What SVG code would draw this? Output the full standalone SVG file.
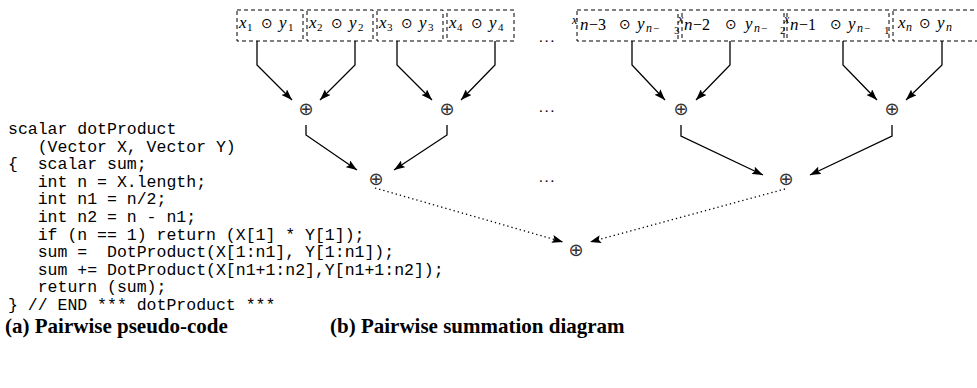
<svg xmlns="http://www.w3.org/2000/svg" width="977" height="388" viewBox="0 0 977 388">
<defs>
<style>
.box{fill:none;stroke:#000;stroke-width:1;stroke-dasharray:4 3}
.m{font-family:"Liberation Serif",serif;font-style:italic;font-size:17px;fill:#000}
.d{font-family:"Liberation Serif",serif;font-size:11px;fill:#000}
.ds{font-family:"Liberation Serif",serif;font-style:italic;font-size:12px;fill:#000}
.op{font-family:"DejaVu Sans",sans-serif;font-size:14px;fill:#000}
.mn{font-family:"Liberation Serif",serif;font-size:16px;fill:#000}
.plus{font-family:"DejaVu Sans",sans-serif;font-size:18px;fill:#333;text-anchor:middle;dominant-baseline:central}
.dots{font-family:"Liberation Serif",serif;font-size:15px;letter-spacing:2px;fill:#000}
.code{font-family:"Liberation Mono",monospace;font-size:16.5px;fill:#000;white-space:pre}
.cap{font-family:"Liberation Serif",serif;font-weight:bold;font-size:21px;fill:#000}
.c{fill:none;stroke:#000;stroke-width:1.3}
.dot{fill:none;stroke:#000;stroke-width:1.3;stroke-dasharray:1.3 3}
</style>
<marker id="ah" viewBox="0 0 11 8" refX="11" refY="4" markerWidth="11" markerHeight="8" markerUnits="userSpaceOnUse" orient="auto">
<path d="M0,0 L11,4 L0,8 L2,4 Z" fill="#000"/>
</marker>
</defs>
<rect width="977" height="388" fill="#fff"/>

<g id="box1"><rect class="box" x="237" y="10" width="66" height="31"/>
<text y="28"><tspan class="m" x="239">x</tspan><tspan class="d" x="247" dy="3">1</tspan><tspan class="op" x="261" dy="-3">⊙</tspan><tspan class="m" x="279">y</tspan><tspan class="d" x="288" dy="3">1</tspan></text></g>
<g id="box2"><rect class="box" x="307" y="10" width="66" height="31"/>
<text y="28"><tspan class="m" x="309">x</tspan><tspan class="d" x="317" dy="3">2</tspan><tspan class="op" x="331" dy="-3">⊙</tspan><tspan class="m" x="349">y</tspan><tspan class="d" x="358" dy="3">2</tspan></text></g>
<g id="box3"><rect class="box" x="377" y="10" width="66" height="31"/>
<text y="28"><tspan class="m" x="379">x</tspan><tspan class="d" x="387" dy="3">3</tspan><tspan class="op" x="401" dy="-3">⊙</tspan><tspan class="m" x="419">y</tspan><tspan class="d" x="428" dy="3">3</tspan></text></g>
<g id="box4"><rect class="box" x="447" y="10" width="67" height="31"/>
<text y="28"><tspan class="m" x="449">x</tspan><tspan class="d" x="457" dy="3">4</tspan><tspan class="op" x="471" dy="-3">⊙</tspan><tspan class="m" x="489">y</tspan><tspan class="d" x="498" dy="3">4</tspan></text></g>

<g id="dots-top"><text class="dots" x="539" y="42">...</text></g>

<g id="boxn3"><rect class="box" x="577" y="10" width="101" height="31"/>
<text><tspan class="ds" x="572" y="24">x</tspan><tspan class="m" x="580" y="30">n</tspan><tspan class="mn" x="589" y="30">−3</tspan><tspan class="op" x="619" y="29">⊙</tspan><tspan class="m" x="637" y="29">y</tspan><tspan class="ds" x="646" y="32">n</tspan><tspan class="d" x="653" y="32">−</tspan><tspan class="d" x="674" y="34">3</tspan></text></g>
<g id="boxn2"><rect class="box" x="682" y="10" width="102" height="31"/>
<text><tspan class="ds" x="678" y="23">x</tspan><tspan class="m" x="684" y="30">n</tspan><tspan class="mn" x="693" y="30">−2</tspan><tspan class="op" x="725" y="29">⊙</tspan><tspan class="m" x="745" y="29">y</tspan><tspan class="ds" x="754" y="32">n</tspan><tspan class="d" x="761" y="32">−</tspan><tspan class="d" x="780" y="34">2</tspan></text></g>
<g id="boxn1"><rect class="box" x="787" y="10" width="102" height="31"/>
<text><tspan class="ds" x="784" y="23">x</tspan><tspan class="m" x="790" y="30">n</tspan><tspan class="mn" x="799" y="30">−1</tspan><tspan class="op" x="830" y="29">⊙</tspan><tspan class="m" x="848" y="29">y</tspan><tspan class="ds" x="857" y="32">n</tspan><tspan class="d" x="864" y="32">−</tspan><tspan class="d" x="884" y="34">1</tspan></text></g>
<g id="boxn"><rect class="box" x="893" y="10" width="101" height="31"/>
<text y="28"><tspan class="m" x="898">x</tspan><tspan class="ds" x="906" dy="3">n</tspan><tspan class="op" x="919" dy="-3">⊙</tspan><tspan class="m" x="937">y</tspan><tspan class="ds" x="946" dy="3">n</tspan></text></g>

<g id="add1"><text class="plus" x="306" y="108">⊕</text></g>
<g id="add2"><text class="plus" x="447" y="108">⊕</text></g>
<g id="dots-l1"><text class="dots" x="539" y="112">...</text></g>
<g id="add3"><text class="plus" x="681" y="108">⊕</text></g>
<g id="add4"><text class="plus" x="892" y="108">⊕</text></g>
<g id="add12"><text class="plus" x="376" y="178">⊕</text></g>
<g id="dots-l2"><text class="dots" x="539" y="182">...</text></g>
<g id="add34"><text class="plus" x="786" y="178">⊕</text></g>
<g id="addall"><text class="plus" x="576" y="249">⊕</text></g>

<g id="connectors">
<polyline class="c" points="257,41 257,65 292,100" marker-end="url(#ah)"/>
<polyline class="c" points="355,41 355,65 320,100" marker-end="url(#ah)"/>
<polyline class="c" points="397,41 397,65 432,100" marker-end="url(#ah)"/>
<polyline class="c" points="495,41 495,65 461,100" marker-end="url(#ah)"/>
<polyline class="c" points="632,41 632,65 665,100" marker-end="url(#ah)"/>
<polyline class="c" points="730,41 730,65 696,100" marker-end="url(#ah)"/>
<polyline class="c" points="843,41 843,65 877,100" marker-end="url(#ah)"/>
<polyline class="c" points="942,41 942,65 906,100" marker-end="url(#ah)"/>
<polyline class="c" points="306,125 306,135 357,170" marker-end="url(#ah)"/>
<polyline class="c" points="447,125 447,135 394,170" marker-end="url(#ah)"/>
<polyline class="c" points="681,125 681,136 763,175" marker-end="url(#ah)"/>
<polyline class="c" points="892,125 892,136 810,175" marker-end="url(#ah)"/>
<line class="dot" x1="375" y1="188" x2="563" y2="242" marker-end="url(#ah)"/>
<line class="dot" x1="785" y1="189" x2="590" y2="242" marker-end="url(#ah)"/>
</g>

<g id="code">
<text class="code" x="8" y="134">scalar dotProduct</text>
<text class="code" x="8" y="151.6">   (Vector X, Vector Y)</text>
<text class="code" x="8" y="169.2">{  scalar sum;</text>
<text class="code" x="8" y="186.8">   int n = X.length;</text>
<text class="code" x="8" y="204.4">   int n1 = n/2;</text>
<text class="code" x="8" y="222">   int n2 = n - n1;</text>
<text class="code" x="8" y="239.6">   if (n == 1) return (X[1] * Y[1]);</text>
<text class="code" x="8" y="257.2">   sum =  DotProduct(X[1:n1], Y[1:n1]);</text>
<text class="code" x="8" y="274.8">   sum += DotProduct(X[n1+1:n2],Y[n1+1:n2]);</text>
<text class="code" x="8" y="292.4">   return (sum);</text>
<text class="code" x="8" y="310">} // END *** dotProduct ***</text>
</g>
<g id="captions">
<text class="cap" x="5" y="333">(a) Pairwise pseudo-code</text>
<text class="cap" x="330" y="333">(b) Pairwise summation diagram</text>
</g>
</svg>
